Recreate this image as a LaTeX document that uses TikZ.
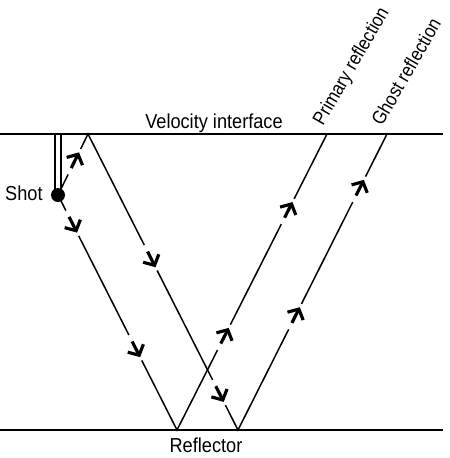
\documentclass[tikz,border=0pt]{standalone}
\usepackage{fontspec}
\setmainfont{Liberation Sans}
\usetikzlibrary{calc,arrows.meta}
\newcommand{\lbltext}[1]{\scalebox{0.9}[1]{#1}}
\tikzset{
	ray/.style={line width=0.85pt},
	gap/.style={white, line width=4pt},
	arr/.style={line width=1.8pt, -{Straight Barb[length=4.5pt,width=10pt]}},
	lbl/.style={inner sep=0pt, font=\fontsize{11.5}{13}\selectfont},
	slant/.style={inner sep=0pt, font=\fontsize{11}{13}\selectfont, anchor=base west, rotate=60}
}
\begin{document}
\begin{tikzpicture}[x=0.02cm, y=-0.02cm]
		\useasboundingbox (0,0) rectangle (450,458);
		% surfaces
		\draw[ray] (0,134) coordinate (vl) -- (443,134) coordinate (vr);
		\draw[ray] (0,430) coordinate (rl) -- (443,430) coordinate (rr);
		\node[lbl, anchor=base] (vel) at (214,128) {\lbltext{Velocity interface}};
		\node[lbl, anchor=base] (refl) at (206,452) {\lbltext{Reflector}};
		% ray points
		\coordinate (shot) at (58,195);
		\coordinate (g1) at (88,134);
		\coordinate (p2) at (177,430);
		\coordinate (g2) at (238,430);
		\coordinate (p3) at (327,134);
		\coordinate (g3) at (387,134);
		\draw[ray] (55,134) -- (55,189);
		\draw[ray] (61,134) -- (61,189);
		\draw[ray] (shot) -- (g1) -- (g2) -- (g3);
		\draw[ray] (shot) -- (p2) -- (p3);
		% arrows on the rays
		\foreach \a/\b/\t in {shot/g1/0.70, shot/p2/0.16, shot/p2/0.69, g1/g2/0.45, g1/g2/0.905,
				p2/p3/0.345, p2/p3/0.77, g2/g3/0.415, g2/g3/0.845} {
				\coordinate (tip) at ($(\a)!\t!(\b)$);
				\draw[gap] ($(tip)!14pt!(\a)$) -- ($(tip)!2pt!(\b)$);
				\draw[arr] ($(tip)!10pt!(\a)$) -- (tip);
			}
		\fill (shot) circle (7);
		\node[lbl, anchor=base east] (shotlbl) at (43,200) {\lbltext{Shot}};
		\node[slant] (prim) at (323,127) {\scalebox{0.88}[1]{Primary reflection}};
		\node[slant] (ghost) at (382,127) {\scalebox{0.88}[1]{Ghost reflection}};
	\end{tikzpicture}
\end{document}
